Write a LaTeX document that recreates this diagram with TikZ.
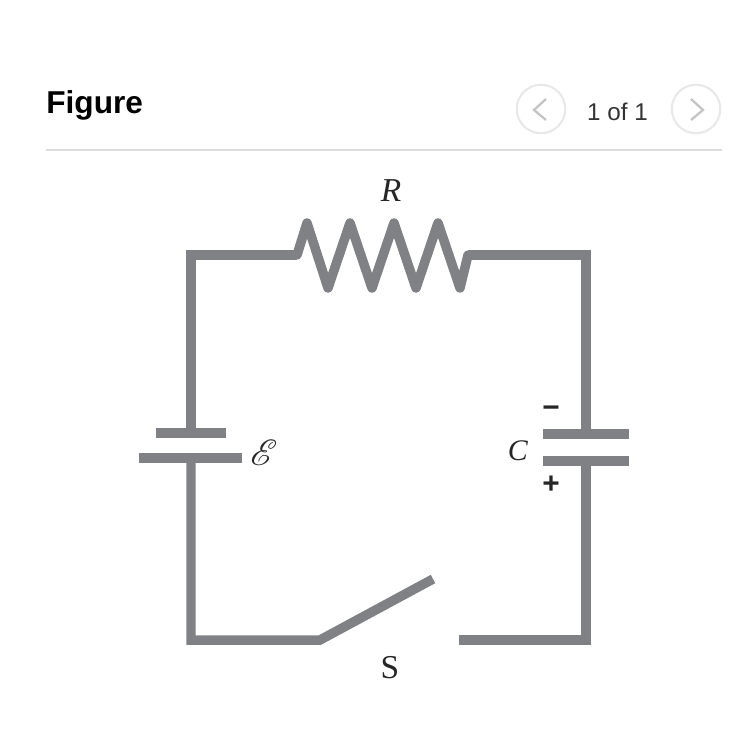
\documentclass[tikz,border=0pt]{standalone}
\usepackage{amsmath}
\usepackage{mathrsfs}
\usepackage{fontspec}
\setmainfont{Liberation Serif}
\newfontfamily\labelfont{Liberation Sans}
\usepackage{tikz}
\definecolor{wiregray}{RGB}{128,129,133}
\definecolor{rulegray}{RGB}{220,220,220}
\definecolor{ringgray}{RGB}{232,232,232}
\definecolor{tipgray}{RGB}{196,196,196}
\tikzset{
  wire/.style={draw=wiregray, line width=5.4pt, line join=miter},
  zigzag/.style={draw=wiregray, line width=5.4pt, line join=round, line cap=round},
  plate/.style={draw=wiregray, line width=5.6pt},
  ring/.style={shape=circle, draw=ringgray, line width=1.2pt, minimum size=0.97cm, inner sep=0pt},
  chevron/.style={draw=tipgray, line width=1.3pt},
  symbol/.style={inner sep=0pt, text=black!85, font=\fontsize{19}{19}\selectfont},
  sign/.style={inner sep=0pt, text=black!85, font=\labelfont\bfseries\fontsize{17}{17}\selectfont}
}
\begin{document}
\begin{tikzpicture}[x=0.02cm, y=-0.02cm]
        \useasboundingbox (0,0) rectangle (730,746);
        % header
        \node[inner sep=0pt, anchor=west, font=\labelfont\bfseries\fontsize{18}{18}\selectfont] (title) at (46,105) {Figure};
        \node[inner sep=0pt, text=black!80, font=\labelfont\fontsize{13.8}{14}\selectfont] (count) at (617.5,112) {1 of 1};
        \node[ring] (prev) at (541,109) {};
        \node[ring] (next) at (696,109) {};
        \draw[chevron] (546,99) -- (534,110) -- (546,120);
        \draw[chevron] (691,99) -- (703,110) -- (691,120);
        \coordinate (ruleL) at (46,150);
        \coordinate (ruleR) at (722,150);
        \draw[draw=rulegray, line width=1pt] (ruleL) -- (ruleR);
        % corners and terminals
        \coordinate (TL) at (191,255);
        \coordinate (TR) at (586,255);
        \coordinate (BL) at (191,640);
        \coordinate (BR) at (586,640);
        \coordinate (resL) at (297,255);
        \coordinate (resR) at (468,255);
        \coordinate (batTop) at (191,433);
        \coordinate (batBot) at (191,458);
        \coordinate (capTop) at (586,434);
        \coordinate (capBot) at (586,461);
        \coordinate (hinge) at (320,640);
        \coordinate (blade) at (433,579);
        \coordinate (contact) at (459,640);
        % circuit
        \draw[wire] (batTop) -- (TL) -- (resL);
        \draw[zigzag] (resL) -- (307,223) -- (328,288) -- (350,223) -- (372,288)
           -- (394,223) -- (416,288) -- (438,223) -- (460,288) -- (resR);
        \draw[wire] (resR) -- (TR) -- (capTop);
        \draw[wire] (capBot) -- (BR) -- (contact);
        \draw[wire] (batBot) -- (BL) -- (hinge) -- (blade);
        % plates
        \draw[plate] (156,433) -- (226,433);
        \draw[plate] (139,458) -- (242,458);
        \draw[plate] (543,434) -- (629,434);
        \draw[plate] (543,461) -- (629,461);
        % labels
        \node[symbol] (R) at (391,191) {\textit{R}};
        \node[symbol] (S) at (390,668) {S};
        \node[symbol, font=\fontsize{17}{17}\selectfont] (C) at (518,451) {\textit{C}};
        \node[symbol, font=\fontsize{21}{21}\selectfont] (E) at (264,453) {$\mathscr{E}$};
        \node[sign] (minus) at (551,412) {\textminus};
        \node[sign] (plus) at (551,485) {+};
    \end{tikzpicture}
\end{document}
